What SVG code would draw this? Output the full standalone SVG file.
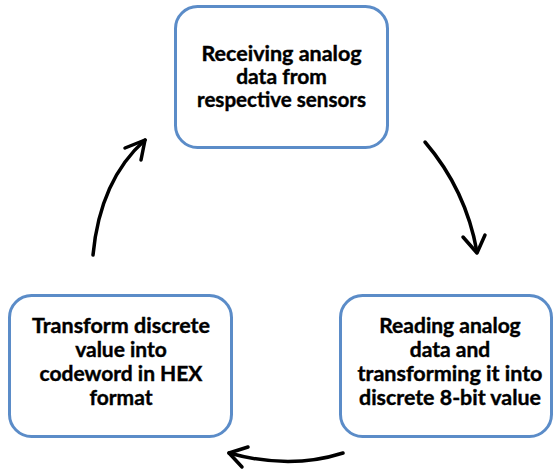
<svg xmlns="http://www.w3.org/2000/svg" width="554" height="471" viewBox="0 0 554 471">
<style>
.box{fill:#fff;stroke:#5b8cc8;stroke-width:3}
.t{font-family:Lato,"Liberation Sans",sans-serif;font-weight:bold;font-size:21px;fill:#000;text-anchor:middle;stroke:#000;stroke-width:0.4}
.c{fill:none;stroke:#000;stroke-width:3.5;stroke-linecap:round;stroke-linejoin:round}
</style>
<rect width="554" height="471" fill="#fff"/>
<g id="node-receive">
<rect class="box" x="175.5" y="6.5" width="212" height="141" rx="22"/>
<text class="t" x="281.5" y="61" textLength="160" lengthAdjust="spacingAndGlyphs">Receiving analog</text>
<text class="t" x="281.5" y="84">data from</text>
<text class="t" x="281.5" y="107" textLength="169" lengthAdjust="spacingAndGlyphs">respective sensors</text>
</g>
<g id="node-read">
<rect class="box" x="340.5" y="295.5" width="211" height="141" rx="22"/>
<text class="t" x="450" y="333">Reading analog</text>
<text class="t" x="450" y="357">data and</text>
<text class="t" x="450" y="381" textLength="185" lengthAdjust="spacingAndGlyphs">transforming it into</text>
<text class="t" x="450" y="405" textLength="182" lengthAdjust="spacingAndGlyphs">discrete 8-bit value</text>
</g>
<g id="node-transform">
<rect class="box" x="9.5" y="295.5" width="222" height="141" rx="22"/>
<text class="t" x="121" y="333" textLength="178" lengthAdjust="spacingAndGlyphs">Transform discrete</text>
<text class="t" x="121" y="357">value into</text>
<text class="t" x="121" y="381">codeword in HEX</text>
<text class="t" x="121" y="405">format</text>
</g>
<g id="connectors">
<path class="c" d="M425,142 Q466,190 477,252"/>
<path class="c" d="M463,237 L477,253 L485,235"/>
<path class="c" d="M343,453 Q290,470 229,453"/>
<path class="c" d="M248,447 L229,453 L242,467"/>
<path class="c" d="M93,255 Q100,180 145,140"/>
<path class="c" d="M125,148 L145,140 L141,160"/>
</g>
</svg>
